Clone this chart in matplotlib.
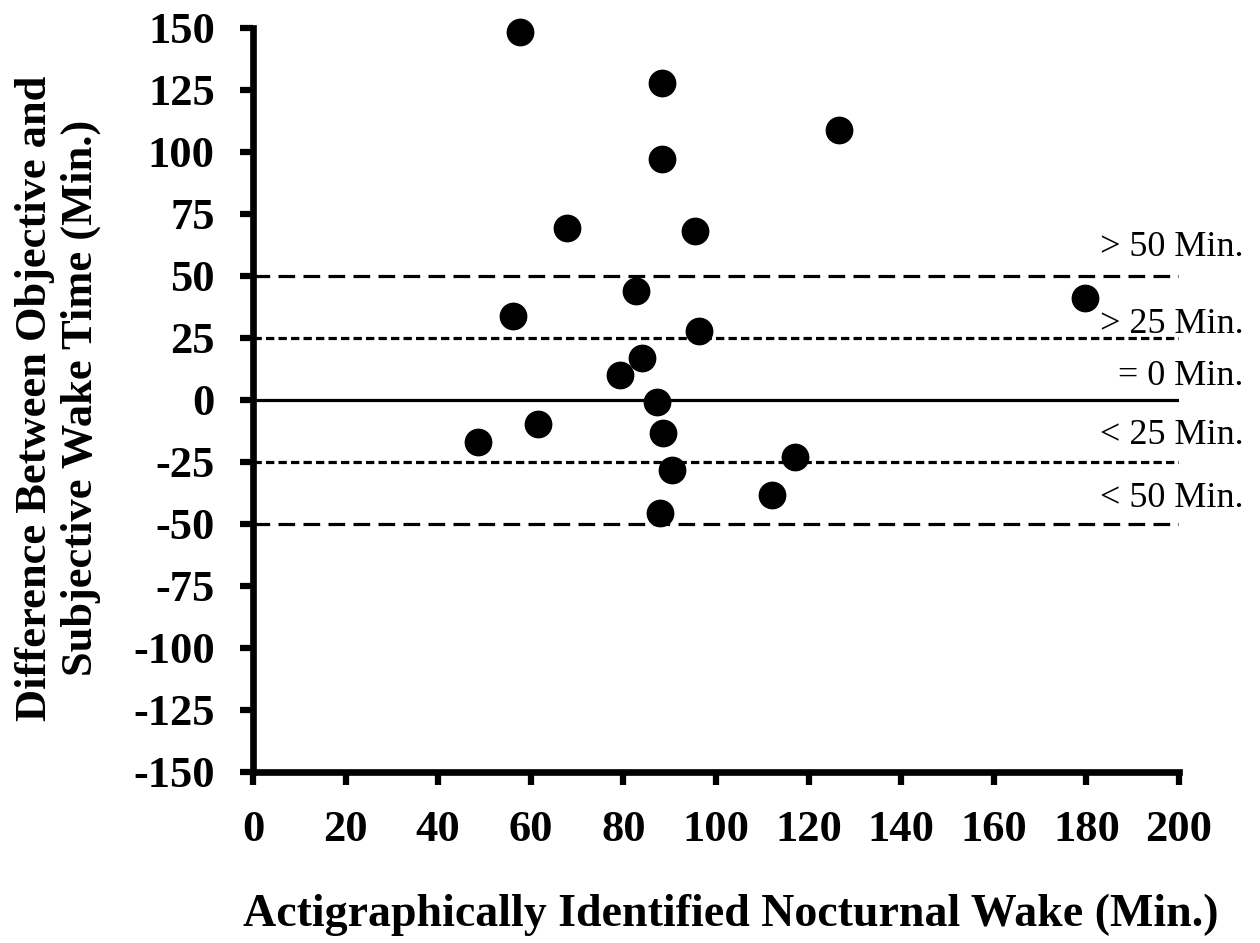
import matplotlib
matplotlib.use('Agg')
import matplotlib.pyplot as plt

# actigraphic wake (min) vs objective - subjective wake difference (min)
wake_min = [57.7, 88.4, 126.6, 88.4, 67.8, 95.4, 82.7, 179.8, 56.2, 96.4,
            84.0, 79.2, 87.3, 61.5, 48.7, 88.5, 90.5, 117.1, 112.2, 87.9]
diff_min = [148.3, 127.6, 108.8, 97.1, 69.4, 68.0, 43.9, 41.0, 33.6, 27.6,
            17.0, 9.8, -0.9, -9.8, -17.1, -13.4, -28.4, -23.2, -38.2, -45.5]

x_ticks = list(range(0, 201, 20))
y_ticks = list(range(-150, 151, 25))

ref_levels = [50, 25, 0, -25, -50]
ref_labels = ['> 50 Min.', '> 25 Min.', '= 0 Min.', '< 25 Min.', '< 50 Min.']
label_y = [61.4, 30.5, 9.2, -14.5, -39.8]

plt.rcParams['font.family'] = ['Liberation Serif', 'DejaVu Serif']
plt.rcParams['lines.scale_dashes'] = False

fig = plt.figure(figsize=(12.6, 9.43), dpi=100)
ax = fig.add_axes([0.2008, 0.1814, 0.7349, 0.7894])

styles = {50: (0, (12, 6)), 25: (0, (6, 3)), 0: '-', -25: (0, (6, 3)), -50: (0, (12, 6))}
for lvl in ref_levels:
    ax.plot([0, 200], [lvl, lvl], color='black', linewidth=2.3,
            linestyle=styles[lvl], zorder=1)

ax.plot(wake_min, diff_min, 'o', color='black', markersize=19, zorder=3,
        clip_on=False)

for txt, yy in zip(ref_labels, label_y):
    ax.text(214, yy, txt, ha='right', va='center', fontsize=26,
            clip_on=False)

ax.set_xlim(0, 200)
ax.set_ylim(-150, 150)
ax.set_xticks(x_ticks)
ax.set_yticks(y_ticks)
ax.set_xticklabels([str(v) for v in x_ticks], fontsize=32, fontweight='bold')
ax.set_yticklabels([str(v) for v in y_ticks], fontsize=32, fontweight='bold')

for side in ['top', 'right']:
    ax.spines[side].set_visible(False)
for side in ['left', 'bottom']:
    ax.spines[side].set_linewidth(4.8)
ax.tick_params(axis='both', direction='out', length=9.5, width=4.5, pad=18)

fig.text(0.580, 0.03, 'Actigraphically Identified Nocturnal Wake (Min.)',
         ha='center', va='center', fontsize=33, fontweight='bold')
fig.text(0.046, 0.578, 'Difference Between Objective and\nSubjective Wake Time (Min.)',
         ha='center', va='center', rotation=90, fontsize=32, fontweight='bold',
         linespacing=1.2)

fig.savefig('out.png', dpi=100)
